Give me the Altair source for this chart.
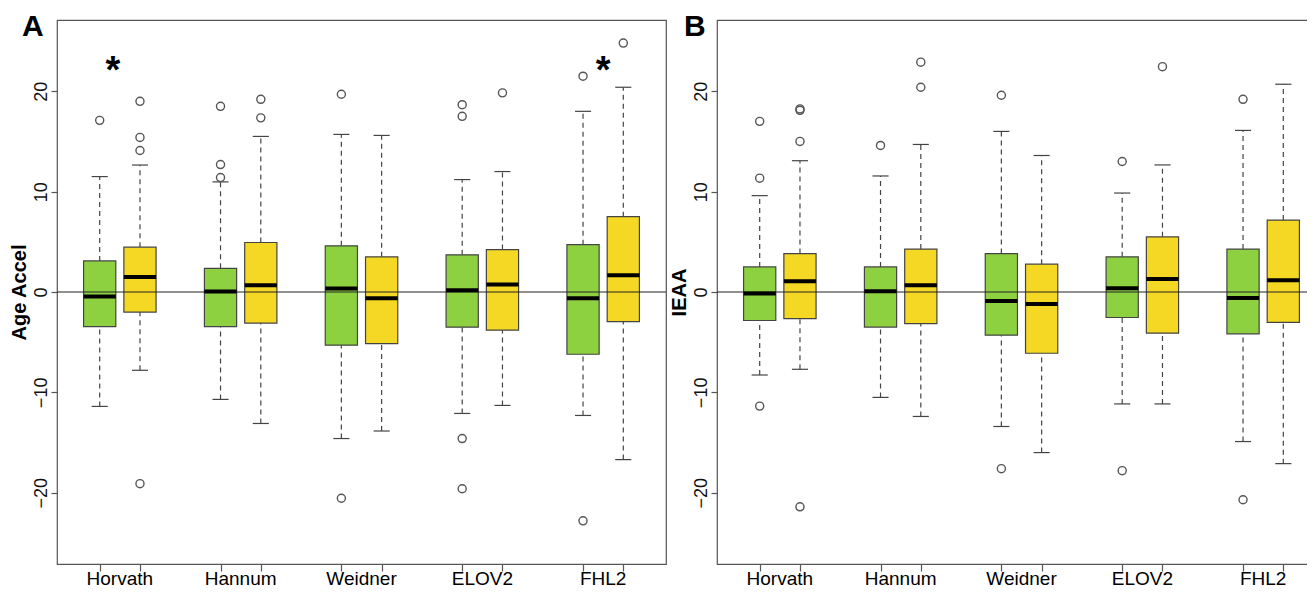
import altair as alt
import pandas as pd

FONT = "Liberation Sans"
GREEN = "#8ED140"
YELLOW = "#F5D824"

methods = ["Horvath", "Hannum", "Weidner", "ELOV2", "FHL2"]
groups = ["group1", "group2"]

# Panel A: Age Accel  (order: Horvath g1, Horvath g2, Hannum g1, ...)
A_lo = [-11.4, -7.8, -10.7, -13.1, -14.6, -13.85, -12.1, -11.3, -12.3, -16.7]
A_q1 = [-3.45, -2.0, -3.45, -3.1, -5.3, -5.15, -3.5, -3.8, -6.2, -2.95]
A_med = [-0.45, 1.5, 0.05, 0.67, 0.36, -0.62, 0.17, 0.74, -0.62, 1.68]
A_q3 = [3.1, 4.47, 2.36, 4.93, 4.6, 3.5, 3.7, 4.23, 4.72, 7.5]
A_hi = [11.5, 12.65, 10.97, 15.5, 15.7, 15.6, 11.2, 12.0, 18.0, 20.4]
A_out = [
    [17.1],
    [19.0, 15.4, 14.1, -19.1],
    [18.5, 12.7, 11.4],
    [19.2, 17.35],
    [19.7, -20.55],
    [],
    [18.66, 17.5, -14.6, -19.6],
    [19.84],
    [21.5, -22.8],
    [24.8],
]
A_star_x = [1.33, 13.5]
A_star_y = [23.1, 23.1]

# Panel B: IEAA
B_lo = [-8.27, -7.7, -10.5, -12.4, -13.4, -16.0, -11.15, -11.15, -14.9, -17.1]
B_q1 = [-2.84, -2.65, -3.49, -3.15, -4.3, -6.1, -2.54, -4.1, -4.17, -3.03]
B_med = [-0.15, 1.06, 0.08, 0.68, -0.9, -1.2, 0.38, 1.29, -0.61, 1.18]
B_q3 = [2.5, 3.83, 2.5, 4.28, 3.83, 2.77, 3.5, 5.5, 4.28, 7.17]
B_hi = [9.6, 13.08, 11.56, 14.7, 16.0, 13.6, 9.86, 12.66, 16.1, 20.7]
B_out = [
    [17.0, 11.34, -11.37],
    [18.24, 18.1, 15.0, -21.4],
    [14.6],
    [22.9, 20.4],
    [19.6, -17.6],
    [],
    [13.0, -17.8],
    [22.45],
    [19.2, -20.7],
    [],
]

y_ticks = [-20, -10, 0, 10, 20]

H = 544
UNIT = 609 / 15.12  # pixels per box slot


def box_pos(i, k):
    return 3 * i + 1 + k


def panel(letter, ytitle, lo, q1, med, q3, hi, outs, star_x, star_y, letter_x, W):
    rows, orows = [], []
    for i, m in enumerate(methods):
        for k, g in enumerate(groups):
            j = 2 * i + k
            p = box_pos(i, k)
            rows.append(dict(method=m, group=g, pos=p, l=p - 0.4, r=p + 0.4,
                             cl=p - 0.2, cr=p + 0.2, lo=lo[j], q1=q1[j],
                             med=med[j], q3=q3[j], hi=hi[j]))
            for v in outs[j]:
                orows.append(dict(pos=p, value=v))
    box = pd.DataFrame(rows)
    odf = pd.DataFrame(orows)
    tick_pos = [box_pos(i, k) for i in range(len(methods)) for k in range(2)]
    lab = pd.DataFrame({"method": methods,
                        "pos": [box_pos(i, 0) + 0.5 for i in range(len(methods))]})

    xs = alt.Scale(domain=[-0.06, -0.06 + W / UNIT], nice=False, zero=False)
    ys = alt.Scale(domain=[-27.1, 27.1], nice=False, zero=False)
    xaxis = alt.Axis(values=tick_pos, labels=False, title=None, grid=False,
                     domain=False, tickSize=7, tickColor="#555", tickWidth=1.2)
    yaxis = alt.Axis(values=y_ticks, title=ytitle, grid=False, domain=False,
                     tickSize=6, tickColor="#555", tickWidth=1.2,
                     labelAngle=270, labelAlign="center", labelBaseline="bottom",
                     labelFontSize=18, labelFont=FONT, labelColor="#111",
                     labelPadding=1, titleFont=FONT, titleFontSize=20,
                     titleFontWeight="bold", titleColor="black", titlePadding=3)

    def X(f):
        return alt.X(f, scale=xs, axis=xaxis)

    def Y(f):
        return alt.Y(f, scale=ys, axis=yaxis)

    base = alt.Chart(box)
    whisk = dict(strokeDash=[5, 4], color="#444", strokeWidth=1.2)
    w_hi = base.mark_rule(**whisk).encode(x=X("pos:Q"), y=Y("q3:Q"), y2="hi:Q")
    w_lo = base.mark_rule(**whisk).encode(x=X("pos:Q"), y=Y("lo:Q"), y2="q1:Q")
    c_hi = base.mark_rule(color="#444", strokeWidth=1.2).encode(
        x=X("cl:Q"), x2="cr:Q", y=Y("hi:Q"))
    c_lo = base.mark_rule(color="#444", strokeWidth=1.2).encode(
        x=X("cl:Q"), x2="cr:Q", y=Y("lo:Q"))
    boxes = base.mark_rect(stroke="#444", strokeWidth=1.2).encode(
        x=X("l:Q"), x2="r:Q", y=Y("q1:Q"), y2="q3:Q",
        fill=alt.Fill("group:N", scale=alt.Scale(domain=groups, range=[GREEN, YELLOW]),
                      legend=None))
    medians = base.mark_rule(color="black", strokeWidth=4).encode(
        x=X("l:Q"), x2="r:Q", y=Y("med:Q"))
    zero = alt.Chart(pd.DataFrame({"v": [0]})).mark_rule(
        color="#222", strokeWidth=1).encode(y=Y("v:Q"), x=alt.value(0), x2=alt.value(W))
    pts = alt.Chart(odf).mark_point(shape="circle", filled=False, color="#555",
                                    size=65, strokeWidth=1.4, opacity=1).encode(
        x=X("pos:Q"), y=Y("value:Q"))
    labels = alt.Chart(lab).mark_text(fontSize=19, font=FONT, color="black",
                                      align="center", baseline="alphabetic").encode(
        x=X("pos:Q"), y=alt.value(H + 21), text="method:N")
    let = alt.Chart(pd.DataFrame({"t": [letter]})).mark_text(
        fontSize=30, font=FONT, fontWeight="bold", color="black",
        align="left", baseline="alphabetic").encode(
        x=alt.value(letter_x), y=alt.value(16), text="t:N")
    layers = [w_hi, w_lo, c_hi, c_lo, boxes, zero, medians, pts, labels, let]
    if star_x:
        sdf = pd.DataFrame({"sx": star_x, "sy": star_y, "t": ["*"] * len(star_x)})
        stars = alt.Chart(sdf).mark_text(fontSize=38, font=FONT, fontWeight="bold",
                                         color="black", align="center",
                                         baseline="alphabetic", dy=23).encode(
            x=X("sx:Q"), y=Y("sy:Q"), text="t:N")
        layers.append(stars)
    return alt.layer(*layers).properties(width=W, height=H)


pA = panel("A", "Age Accel", A_lo, A_q1, A_med, A_q3, A_hi, A_out,
           A_star_x, A_star_y, -35, 609)
pB = panel("B", "IEAA", B_lo, B_q1, B_med, B_q3, B_hi, B_out, [], [], -33, 598)

chart = alt.hconcat(pA, pB, spacing=0).properties(
    padding={"left": 0, "top": 3, "right": -10, "bottom": -2},
    background="white",
).configure_view(stroke="#555", strokeWidth=1.2).configure_text(font=FONT)

chart.save("out.html", embed_options={"renderer": "svg", "actions": False})
